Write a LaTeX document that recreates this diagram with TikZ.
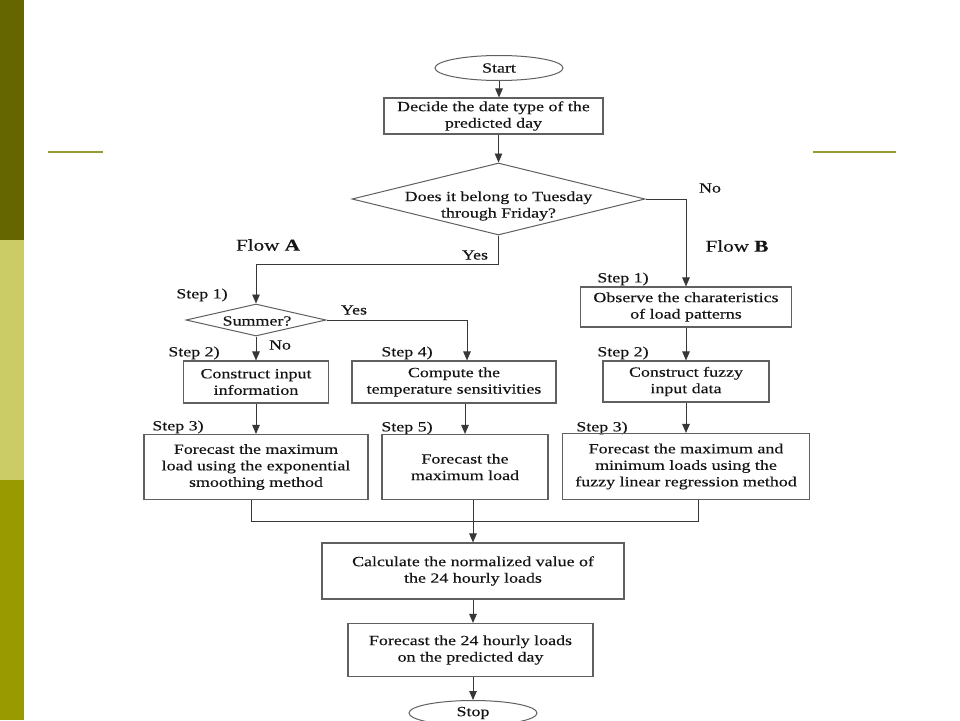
\documentclass[tikz,border=0pt]{standalone}
\usepackage{fontspec}
\setmainfont{Liberation Serif}[FakeStretch=1.28,FakeBold=0.2]
\usetikzlibrary{shapes.geometric,arrows.meta}
\definecolor{barA}{HTML}{666600}
\definecolor{barB}{HTML}{CCCC66}
\definecolor{barC}{HTML}{999900}
\definecolor{rulec}{HTML}{999933}
\definecolor{edgec}{HTML}{606060}
\definecolor{ink}{HTML}{141414}
\begin{document}
\begin{tikzpicture}[x=1pt,y=-1pt,
  txt/.style={font=\fontsize{14}{16.5}\selectfont, text=ink, align=center, inner sep=0},
  box/.style={txt, draw=edgec, line width=1.1pt, rectangle},
  term/.style={txt, draw=edgec, line width=1pt, ellipse, minimum width=128pt, minimum height=25pt},
  dia/.style={txt, draw=edgec, line width=1pt, diamond},
  flowlbl/.style={font=\fontsize{16.5}{18}\selectfont, text=ink, inner sep=0},
  arr/.style={draw=ink!85, line width=0.9pt, -{Triangle[length=9pt,width=7.5pt]}},
  ln/.style={draw=ink!85, line width=0.9pt},
]
\useasboundingbox (0,0) rectangle (960,720);
\fill[white] (0,0) rectangle (960,720);
% side bar and rules
\fill[barA] (0,0) rectangle (24,240);
\fill[barB] (0,240) rectangle (24,480);
\fill[barC] (0,480) rectangle (24,720);
\draw[rulec, line width=2pt] (48,152) -- (103,152);
\draw[rulec, line width=2pt] (813,152) -- (896,152);

% main column
\node[term] (start) at (499,68) {Start};
\node[box, minimum width=219pt, minimum height=36pt] (b1) at (493.5,116) {Decide the date type of the\\predicted day};
\node[dia, minimum width=293pt, minimum height=72pt] (d1) at (498.5,199) {};
\node[txt] (d1t) at (498.5,206) {Does it belong to Tuesday\\through Friday?};
\node[txt] (no1) at (710,188) {No};
\node[txt] (yes1) at (475,255) {Yes};
\node[flowlbl] (flA) at (268,245) {Flow \textbf{A}};
\node[flowlbl] (flB) at (737,246) {Flow \textbf{B}};

% flow A
\node[txt] (s1a) at (202,295) {Step 1)};
\node[dia, minimum width=140pt, minimum height=32pt] (su) at (256,320) {};
\node[txt] (sut) at (257,321) {Summer?};
\node[txt] (yes2) at (354,310) {Yes};
\node[txt] (no2) at (280,345) {No};
\node[txt] (s2a) at (194,353) {Step 2)};
\node[txt] (s4) at (407,353) {Step 4)};
\node[box, minimum width=145pt, minimum height=42pt] (ci) at (256,382) {Construct input\\information};
\node[box, minimum width=204pt, minimum height=42pt] (cts) at (454,382) {Compute the\\temperature sensitivities};
\node[txt] (s3a) at (178,427) {Step 3)};
\node[txt] (s5) at (407,428) {Step 5)};
\node[box, minimum width=224pt, minimum height=65pt] (f1) at (256,467) {Forecast the maximum\\load using the exponential\\smoothing method};
\node[box, minimum width=166pt, minimum height=65pt] (f2) at (465,467) {Forecast the\\maximum load};

% flow B
\node[txt] (s1b) at (623,279) {Step 1)};
\node[box, minimum width=211pt, minimum height=40pt] (obs) at (686,307) {Observe the charateristics\\of load patterns};
\node[txt] (s2b) at (623,353) {Step 2)};
\node[box, minimum width=166pt, minimum height=41pt] (cfz) at (686,381.5) {Construct fuzzy\\input data};
\node[txt] (s3b) at (602,428) {Step 3)};
\node[box, minimum width=247pt, minimum height=66pt] (f3) at (686,466.5) {Forecast the maximum and\\minimum loads using the\\fuzzy linear regression method};

% bottom
\node[box, minimum width=302pt, minimum height=56pt] (calc) at (473,571) {Calculate the normalized value of\\the 24 hourly loads};
\node[box, minimum width=245pt, minimum height=53pt] (f24) at (470.5,650) {Forecast the 24 hourly loads\\on the predicted day};
\node[term] (stop) at (473,713) {Stop};

% helper coordinates
\coordinate (yA) at (498.5,264);
\coordinate (c4) at (467,320);
\coordinate (mL) at (251,521);
\coordinate (mR) at (698,521);

% connectors
\draw[arr] (start.south) -- (start.south |- b1.north);
\draw[arr] (d1.north |- b1.south) -- (d1.north);
\draw[ln] (d1.south) -- (yA);
\draw[arr] (yA) -| (su.north);
\draw[arr] (d1.east) -| (obs.north);
\draw[arr] (obs.south) -- (cfz.north);
\draw[arr] (cfz.south) -- (f3.north);
\draw[arr] (su.south) -- (ci.north);
\draw[arr] (su.east) -| (cts.north -| c4);
\draw[arr] (ci.south) -- (f1.north);
\draw[arr] (cts.south -| f2.north) -- (f2.north);
\draw[ln] (f1.south -| mL) -- (mL) -- (mR) -- (f3.south -| mR);
\draw[arr] (f2.south -| calc.north) -- (calc.north);
\draw[arr] (calc.south) -- (calc.south |- f24.north);
\draw[arr] (calc.south |- f24.south) -- (stop.north);
\end{tikzpicture}
\end{document}
